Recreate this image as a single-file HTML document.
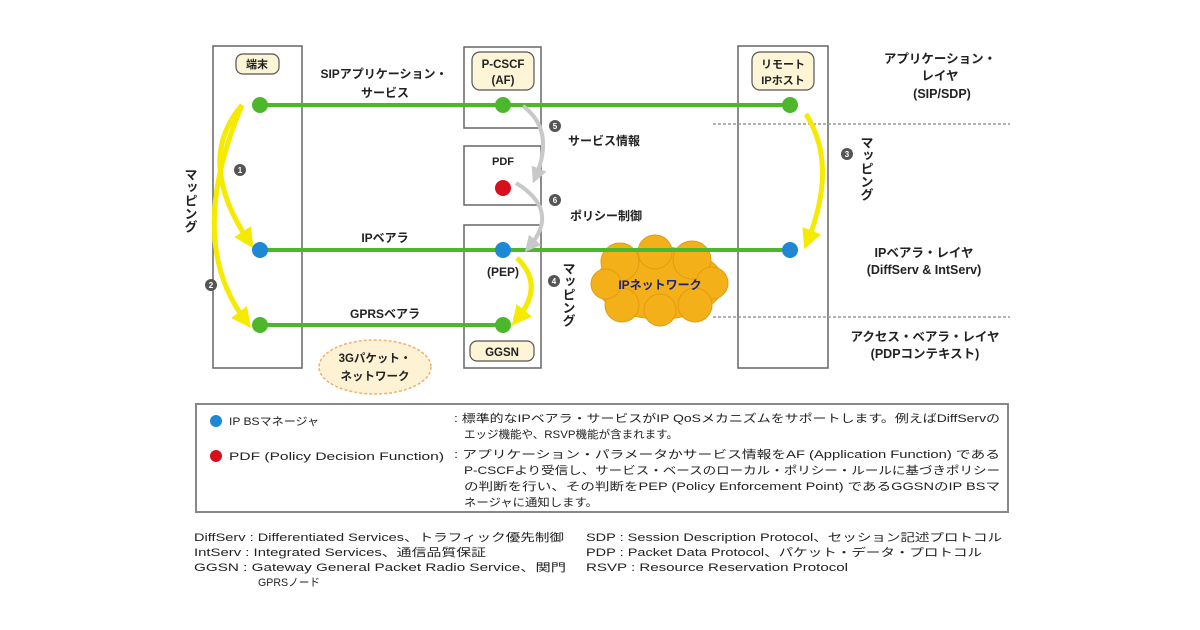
<!DOCTYPE html>
<html><head><meta charset="utf-8"><style>
html,body{margin:0;padding:0;background:#fff;}
svg{display:block}
text{font-family:"Liberation Sans","Noto Sans CJK JP",sans-serif;fill:#222;}
.b{font-weight:bold;}
</style></head><body>
<svg width="1200" height="630" viewBox="0 0 1200 630" xmlns="http://www.w3.org/2000/svg">
<defs>
<marker id="ay" markerWidth="4" markerHeight="4" refX="2" refY="2" orient="auto" markerUnits="strokeWidth"><path d="M0,0 L4,2 L0,4 z" fill="#f5ea00"/></marker>
<marker id="ag" markerWidth="4" markerHeight="4" refX="2" refY="2" orient="auto" markerUnits="strokeWidth"><path d="M0,0 L4,2 L0,4 z" fill="#c8c8c8"/></marker>
</defs>
<g fill="none" stroke="#666" stroke-width="1.5">
<rect x="213" y="46" width="89" height="322"/>
<rect x="464" y="47" width="77" height="81"/>
<rect x="464" y="146" width="77" height="59"/>
<rect x="464" y="225" width="77" height="143"/>
<rect x="738" y="46" width="90" height="322"/>
</g>
<g stroke="#999" stroke-width="1.5" stroke-dasharray="3,2">
<line x1="713" y1="124" x2="1010" y2="124"/>
<line x1="713" y1="317" x2="1010" y2="317"/>
</g>
<g fill="#f4b019" stroke="#e39a10" stroke-width="1">
<ellipse cx="660" cy="283" rx="64" ry="36"/>
<circle cx="620" cy="262" r="19"/><circle cx="655" cy="252" r="17"/><circle cx="692" cy="260" r="19"/>
<circle cx="712" cy="283" r="16"/><circle cx="695" cy="305" r="17"/><circle cx="660" cy="310" r="16"/>
<circle cx="622" cy="305" r="17"/><circle cx="606" cy="284" r="15"/>
</g>
<text x="660" y="289" font-size="12" class="b" text-anchor="middle" style="fill:#1a237e">IPネットワーク</text>
<ellipse cx="375" cy="367" rx="56" ry="27" fill="#fdf3d4" stroke="#f0b070" stroke-width="1.5" stroke-dasharray="3,2"/>
<text x="375" y="362" font-size="11.5" class="b" text-anchor="middle">3Gパケット・</text>
<text x="375" y="380" font-size="11.5" class="b" text-anchor="middle">ネットワーク</text>
<g stroke="#4cb72a" stroke-width="4">
<line x1="260" y1="105" x2="790" y2="105"/>
<line x1="260" y1="250" x2="790" y2="250"/>
<line x1="260" y1="325" x2="503" y2="325"/>
</g>
<g fill="none" stroke="#c8c8c8" stroke-width="4">
<path d="M523,106 Q555,130 536,176" marker-end="url(#ag)"/>
<path d="M516,183 Q560,210 530,246" marker-end="url(#ag)"/>
</g>
<g fill="none" stroke="#f5ea00" stroke-width="5">
<path d="M242,105 Q195,160 248,240" marker-end="url(#ay)"/>
<path d="M242,105 Q185,240 245,320" marker-end="url(#ay)"/>
<path d="M517,258 Q545,285 518,318" marker-end="url(#ay)"/>
<path d="M806,114 Q838,165 808,240" marker-end="url(#ay)"/>
</g>
<g fill="#4cb72a"><circle cx="260" cy="105" r="8"/><circle cx="503" cy="105" r="8"/><circle cx="790" cy="105" r="8"/><circle cx="260" cy="325" r="8"/><circle cx="503" cy="325" r="8"/></g>
<g fill="#1e88d4"><circle cx="260" cy="250" r="8"/><circle cx="503" cy="250" r="8"/><circle cx="790" cy="250" r="8"/></g>
<circle cx="503" cy="188" r="8" fill="#d8101c"/>
<g fill="#fdf5d6" stroke="#555" stroke-width="1.2">
<rect x="236" y="54" width="43" height="20" rx="7"/>
<rect x="472" y="52" width="62" height="38" rx="8"/>
<rect x="470" y="341" width="64" height="20" rx="7"/>
<rect x="752" y="52" width="62" height="38" rx="8"/>
</g>
<text x="257" y="68" font-size="11" class="b" text-anchor="middle">端末</text>
<text x="503" y="68" font-size="11.5" class="b" text-anchor="middle">P-CSCF</text>
<text x="503" y="84" font-size="11.5" class="b" text-anchor="middle">(AF)</text>
<text x="502" y="356" font-size="11.5" class="b" text-anchor="middle">GGSN</text>
<text x="783" y="68" font-size="11" class="b" text-anchor="middle">リモート</text>
<text x="783" y="84" font-size="11" class="b" text-anchor="middle">IPホスト</text>
<text x="503" y="165" font-size="11" class="b" text-anchor="middle">PDF</text>
<text x="503" y="276" font-size="12" class="b" text-anchor="middle">(PEP)</text>
<g font-size="12" class="b" text-anchor="middle">
<text x="384" y="78">SIPアプリケーション・</text>
<text x="385" y="97">サービス</text>
<text x="385" y="242">IPベアラ</text>
<text x="385" y="318">GPRSベアラ</text>
<text x="604" y="145">サービス情報</text>
<text x="606" y="220">ポリシー制御</text>
</g>
<g fill="#555"><circle cx="240" cy="170" r="6"/><circle cx="211" cy="285" r="6"/><circle cx="555" cy="126" r="6"/><circle cx="555" cy="200" r="6"/><circle cx="554" cy="281" r="6"/><circle cx="847" cy="154" r="6"/></g>
<g font-size="8" text-anchor="middle" class="b">
<text x="240" y="173" style="fill:#fff">1</text><text x="211" y="288" style="fill:#fff">2</text><text x="555" y="129" style="fill:#fff">5</text><text x="555" y="203" style="fill:#fff">6</text><text x="554" y="284" style="fill:#fff">4</text><text x="847" y="157" style="fill:#fff">3</text>
</g>
<g font-size="13" class="b">
<text x="190" y="168" style="writing-mode:vertical-rl">マッピング</text>
<text x="568" y="262" style="writing-mode:vertical-rl">マッピング</text>
<text x="866" y="136" style="writing-mode:vertical-rl">マッピング</text>
</g>
<g font-size="12.5" class="b" text-anchor="middle">
<text x="940" y="63">アプリケーション・</text>
<text x="940" y="80">レイヤ</text>
<text x="942" y="98">(SIP/SDP)</text>
<text x="924" y="257">IPベアラ・レイヤ</text>
<text x="924" y="274">(DiffServ &amp; IntServ)</text>
<text x="925" y="341">アクセス・ベアラ・レイヤ</text>
<text x="925" y="358">(PDPコンテキスト)</text>
</g>
<rect x="196" y="404" width="812" height="108" fill="#fff" stroke="#888" stroke-width="2"/>
<circle cx="216" cy="421" r="6" fill="#1e88d4"/>
<circle cx="216" cy="456" r="6" fill="#d8101c"/>
<g font-size="11" lengthAdjust="spacingAndGlyphs">
<text x="229" y="425" textLength="90" lengthAdjust="spacingAndGlyphs">IP BSマネージャ</text>
<text x="229" y="460" textLength="215" lengthAdjust="spacingAndGlyphs">PDF (Policy Decision Function)</text>
<text x="454" y="422" textLength="546" lengthAdjust="spacingAndGlyphs">: 標準的なIPベアラ・サービスがIP QoSメカニズムをサポートします。例えばDiffServの</text>
<text x="464" y="438" textLength="214" lengthAdjust="spacingAndGlyphs">エッジ機能や、RSVP機能が含まれます。</text>
<text x="454" y="458" textLength="546" lengthAdjust="spacingAndGlyphs">: アプリケーション・パラメータかサービス情報をAF (Application Function) である</text>
<text x="464" y="474" textLength="536" lengthAdjust="spacingAndGlyphs">P-CSCFより受信し、サービス・ベースのローカル・ポリシー・ルールに基づきポリシー</text>
<text x="464" y="490" textLength="536" lengthAdjust="spacingAndGlyphs">の判断を行い、その判断をPEP (Policy Enforcement Point) であるGGSNのIP BSマ</text>
<text x="464" y="506" textLength="134" lengthAdjust="spacingAndGlyphs">ネージャに通知します。</text>
</g>
<g font-size="11">
<text x="194" y="541" textLength="370" lengthAdjust="spacingAndGlyphs">DiffServ : Differentiated Services、トラフィック優先制御</text>
<text x="194" y="556" textLength="292" lengthAdjust="spacingAndGlyphs">IntServ  : Integrated Services、通信品質保証</text>
<text x="194" y="571" textLength="372" lengthAdjust="spacingAndGlyphs">GGSN     : Gateway General Packet Radio Service、関門</text>
<text x="258" y="586" textLength="62" lengthAdjust="spacingAndGlyphs">GPRSノード</text>
<text x="586" y="541" textLength="416" lengthAdjust="spacingAndGlyphs">SDP   : Session Description Protocol、セッション記述プロトコル</text>
<text x="586" y="556" textLength="396" lengthAdjust="spacingAndGlyphs">PDP   : Packet Data Protocol、パケット・データ・プロトコル</text>
<text x="586" y="571" textLength="262" lengthAdjust="spacingAndGlyphs">RSVP : Resource Reservation Protocol</text>
</g>
</svg>
</body></html>
